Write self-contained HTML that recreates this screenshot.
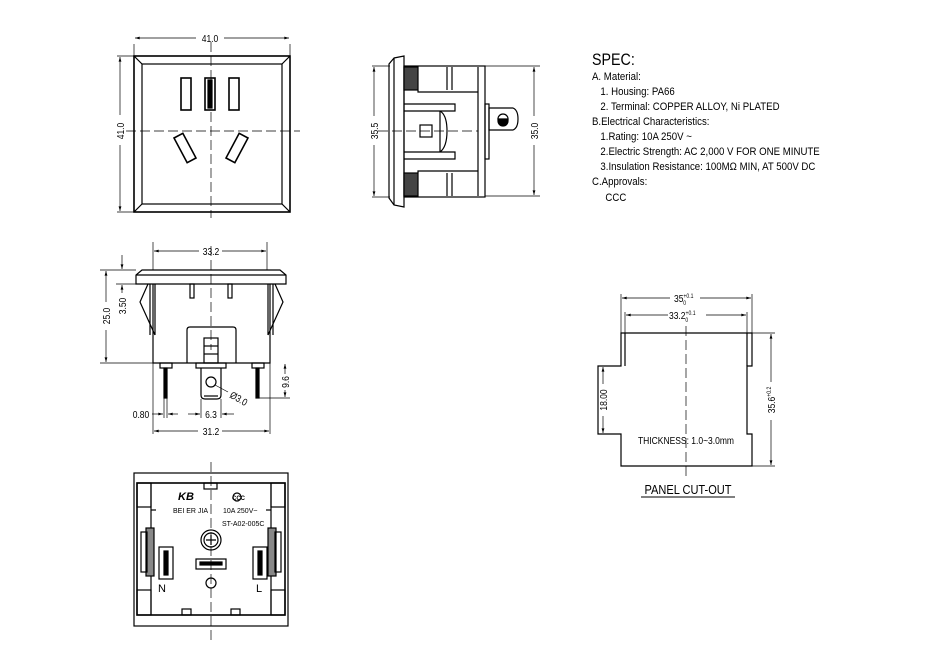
<!DOCTYPE html>
<html><head><meta charset="utf-8"><style>
html,body{margin:0;padding:0;background:#fff;}
svg{display:block;}
text{font-family:"Liberation Sans",sans-serif;fill:#000;}
</style></head><body>
<svg width="930" height="658" viewBox="0 0 930 658" xmlns="http://www.w3.org/2000/svg">
<defs>
<marker id="a" viewBox="0 0 10 6" refX="10" refY="3" markerWidth="8" markerHeight="4" orient="auto-start-reverse"><path d="M0,0L10,3L0,6z" fill="#000"/></marker>
</defs>
<g fill="none" stroke="#000" stroke-width="1.2">
<!-- FRONT VIEW -->
<rect x="134" y="56" width="156" height="156" stroke-width="1.6"/>
<rect x="142" y="64" width="140" height="140"/>
<line x1="134" y1="56" x2="142" y2="64"/><line x1="290" y1="56" x2="282" y2="64"/>
<line x1="134" y1="212" x2="142" y2="204"/><line x1="290" y1="212" x2="282" y2="204"/>
<rect x="181" y="78" width="10" height="32" stroke-width="1.6"/>
<rect x="205" y="78" width="10" height="32" stroke-width="1.6"/>
<rect x="208" y="80" width="4" height="28" fill="#000"/>
<rect x="229" y="78" width="10" height="32" stroke-width="1.6"/>
<rect x="-5" y="-14" width="10" height="28" transform="translate(185,148) rotate(-28)" stroke-width="1.6"/>
<rect x="-5" y="-14" width="10" height="28" transform="translate(237,148) rotate(28)" stroke-width="1.6"/>
<g stroke-width="0.7">
<line x1="134" y1="44" x2="134" y2="56"/><line x1="290" y1="44" x2="290" y2="56"/>
<line x1="135" y1="38" x2="196" y2="38" marker-start="url(#a)"/><line x1="224" y1="38" x2="289" y2="38" marker-end="url(#a)"/>
<line x1="117" y1="56" x2="134" y2="56"/><line x1="117" y1="212" x2="134" y2="212"/>
<line x1="120" y1="57" x2="120" y2="115" marker-start="url(#a)"/><line x1="120" y1="145" x2="120" y2="211" marker-end="url(#a)"/>
<line x1="126" y1="131" x2="300" y2="131" stroke-dasharray="10,4"/>
<line x1="211" y1="42" x2="211" y2="218" stroke-dasharray="10,4"/>
</g>
<!-- SIDE VIEW -->
<path d="M394,58 L404,56 L404,207 L394,205 L389,198 L389,64 Z"/>
<line x1="394" y1="58" x2="394" y2="205"/>
<rect x="404" y="66" width="81" height="131"/>
<rect x="404" y="67" width="14" height="23" fill="#444"/>
<rect x="404" y="173" width="14" height="23" fill="#444"/>
<line x1="447" y1="67" x2="447" y2="90"/><line x1="452" y1="67" x2="452" y2="90"/>
<line x1="447" y1="173" x2="447" y2="196"/><line x1="452" y1="173" x2="452" y2="196"/>
<line x1="478" y1="67" x2="478" y2="196"/>
<polyline points="418,90 418,92 478,92"/><polyline points="418,173 418,171 478,171"/>
<polyline points="404,104 455,104 455,111 404,111"/>
<polyline points="404,152 455,152 455,159 404,159"/>
<path d="M440,111 Q447,115 447,131 Q447,147 440,152"/>
<line x1="440" y1="111" x2="440" y2="152"/>
<rect x="420" y="125" width="12" height="12"/>
<rect x="485" y="104" width="4" height="55"/>
<path d="M489,108 L513,108 Q518,110 518,119 Q518,128 513,130 L489,130 Z"/>
<circle cx="503" cy="119" r="5"/><path d="M498,119 L508,119 L508,121 A5,5 0 0 1 498,121 Z" fill="#000"/>
<g stroke-width="0.7">
<line x1="372" y1="66" x2="390" y2="66"/><line x1="372" y1="197" x2="390" y2="197"/>
<line x1="374" y1="67" x2="374" y2="116" marker-start="url(#a)"/><line x1="374" y1="145" x2="374" y2="196" marker-end="url(#a)"/>
<line x1="485" y1="66" x2="540" y2="66"/><line x1="485" y1="196" x2="540" y2="196"/>
<line x1="534" y1="67" x2="534" y2="116" marker-start="url(#a)"/><line x1="534" y1="145" x2="534" y2="195" marker-end="url(#a)"/>
<line x1="378" y1="131" x2="478" y2="131" stroke-dasharray="10,4"/>
</g>
<!-- TOP SECTION VIEW -->
<path d="M136,284 L136,275 L142,270 L280,270 L286,275 L286,284 Z"/>
<line x1="136" y1="275" x2="286" y2="275"/>
<path d="M153,284 L153,363 L270,363 L270,284"/>
<path d="M148,284 L140,302 L155,335"/><line x1="150" y1="284" x2="150" y2="335"/><line x1="155" y1="284" x2="155" y2="335"/>
<path d="M275,284 L283,302 L268,335"/><line x1="273" y1="284" x2="273" y2="335"/><line x1="268" y1="284" x2="268" y2="335"/>
<rect x="190" y="284" width="4" height="14"/><rect x="228" y="284" width="4" height="14"/>
<path d="M187,363 L187,330 Q187,327 190,327 L233,327 Q236,327 236,330 L236,363"/>
<rect x="204" y="338" width="14" height="25"/>
<line x1="204" y1="346" x2="218" y2="346"/><line x1="204" y1="354" x2="218" y2="354"/>
<rect x="160" y="363" width="12" height="5"/><rect x="196" y="363" width="30" height="5"/><rect x="252" y="363" width="12" height="5"/>
<rect x="164" y="368" width="3" height="30" fill="#333"/><rect x="256" y="368" width="3" height="30" fill="#333"/>
<path d="M201,368 L201,395 Q201,399 205,399 L217,399 Q221,399 221,395 L221,368"/>
<line x1="204" y1="396" x2="218" y2="396"/>
<circle cx="211" cy="382" r="5"/>
<g stroke-width="0.7">
<line x1="153" y1="242" x2="153" y2="270"/><line x1="267" y1="242" x2="267" y2="270"/>
<line x1="154" y1="251" x2="199" y2="251" marker-start="url(#a)"/><line x1="222" y1="251" x2="266" y2="251" marker-end="url(#a)"/>
<line x1="100" y1="270" x2="136" y2="270"/><line x1="100" y1="363" x2="153" y2="363"/>
<line x1="106" y1="271" x2="106" y2="302" marker-start="url(#a)"/><line x1="106" y1="330" x2="106" y2="362" marker-end="url(#a)"/>
<line x1="116" y1="284" x2="136" y2="284"/>
<line x1="122" y1="255" x2="122" y2="269" marker-end="url(#a)"/><line x1="122" y1="285" x2="122" y2="293" marker-start="url(#a)"/>
<line x1="153" y1="363" x2="153" y2="434"/><line x1="270" y1="363" x2="270" y2="434"/>
<line x1="154" y1="431" x2="198" y2="431" marker-start="url(#a)"/><line x1="222" y1="431" x2="269" y2="431" marker-end="url(#a)"/>
<line x1="164" y1="398" x2="164" y2="418"/><line x1="167" y1="398" x2="167" y2="418"/>
<line x1="152" y1="414" x2="163" y2="414" marker-end="url(#a)"/><line x1="168" y1="414" x2="178" y2="414" marker-start="url(#a)"/>
<line x1="201" y1="399" x2="201" y2="418"/><line x1="221" y1="399" x2="221" y2="418"/>
<line x1="188" y1="414" x2="200" y2="414" marker-end="url(#a)"/><line x1="222" y1="414" x2="234" y2="414" marker-start="url(#a)"/>
<line x1="259" y1="398" x2="290" y2="398"/>
<line x1="285" y1="364" x2="285" y2="374" marker-start="url(#a)"/><line x1="285" y1="390" x2="285" y2="397" marker-end="url(#a)"/>
<line x1="215" y1="385" x2="228" y2="392"/>
<line x1="211" y1="246" x2="211" y2="350" stroke-dasharray="10,4"/>
</g>
<!-- BACK VIEW -->
<rect x="134" y="473" width="154" height="153"/>
<rect x="137" y="483" width="148" height="132" stroke-width="1.6"/>
<rect x="137" y="483" width="14" height="24"/><rect x="271" y="483" width="14" height="24"/>
<rect x="137" y="590" width="14" height="25"/><rect x="271" y="590" width="14" height="25"/>
<rect x="204" y="483" width="13" height="6"/>
<rect x="182" y="609" width="9" height="6"/><rect x="231" y="609" width="9" height="6"/>
<line x1="151" y1="483" x2="151" y2="615"/><line x1="271" y1="483" x2="271" y2="615"/>
<rect x="146" y="528" width="8" height="48" fill="#888"/><rect x="268" y="528" width="8" height="48" fill="#888"/>
<rect x="141" y="532" width="6" height="40"/><rect x="275" y="532" width="6" height="40"/>
<line x1="151" y1="510" x2="156" y2="510"/><line x1="266" y1="510" x2="271" y2="510"/>
<rect x="159" y="547" width="14" height="32"/><rect x="164" y="551" width="4" height="24" fill="#000"/>
<rect x="253" y="547" width="14" height="32"/><rect x="258" y="551" width="4" height="24" fill="#000"/>
<circle cx="211" cy="540" r="10"/><circle cx="211" cy="540" r="7"/>
<path d="M206,540 L216,540 M211,535 L211,545"/>
<rect x="196" y="559" width="30" height="10"/><rect x="200" y="562" width="22" height="3" fill="#000"/>
<circle cx="211" cy="583" r="5"/>
<path d="M209,574 Q207,567 214,565 Q219,568 216,574" stroke-width="0"/>
<circle cx="237" cy="497" r="4"/>
<line x1="211" y1="462" x2="211" y2="640" stroke-width="0.7" stroke-dasharray="10,4"/>
<!-- PANEL CUT-OUT -->
<path d="M621,333 L752,333 L752,366 L747,366 L747,434 L752,434 L752,466 L621,466 L621,434 L598,434 L598,366 L621,366 Z"/>
<line x1="625" y1="333" x2="625" y2="366"/><line x1="747" y1="333" x2="747" y2="366"/>
<g stroke-width="0.7">
<line x1="621" y1="294" x2="621" y2="333"/><line x1="752" y1="294" x2="752" y2="333"/>
<line x1="622" y1="298" x2="670" y2="298" marker-start="url(#a)"/><line x1="700" y1="298" x2="751" y2="298" marker-end="url(#a)"/>
<line x1="625" y1="312" x2="625" y2="333"/><line x1="747" y1="312" x2="747" y2="333"/>
<line x1="626" y1="315" x2="668" y2="315" marker-start="url(#a)"/><line x1="706" y1="315" x2="746" y2="315" marker-end="url(#a)"/>
<line x1="752" y1="333" x2="775" y2="333"/><line x1="752" y1="466" x2="775" y2="466"/>
<line x1="771" y1="334" x2="771" y2="382" marker-start="url(#a)"/><line x1="771" y1="420" x2="771" y2="465" marker-end="url(#a)"/>
<line x1="603" y1="367" x2="603" y2="384" marker-start="url(#a)"/><line x1="603" y1="416" x2="603" y2="433" marker-end="url(#a)"/>
<line x1="686" y1="326" x2="686" y2="478" stroke-dasharray="10,4"/>
<line x1="641" y1="497" x2="735" y2="497" stroke-width="1"/>
</g>
</g>
<g stroke="none" fill="#000">
<rect x="164" y="368" width="3" height="30"/><rect x="256" y="368" width="3" height="30"/>
</g>
<!-- Labels -->
<g font-size="10" transform="" >
<text x="210" y="42" text-anchor="middle" transform="translate(210,0) scale(0.85,1) translate(-210,0)">41.0</text>
<text x="0" y="0" transform="translate(124,131) rotate(-90) scale(0.85,1)" text-anchor="middle">41.0</text>
<text x="0" y="0" transform="translate(378,131) rotate(-90) scale(0.85,1)" text-anchor="middle">35.5</text>
<text x="0" y="0" transform="translate(538,131) rotate(-90) scale(0.85,1)" text-anchor="middle">35.0</text>
<text x="211" y="255" text-anchor="middle" transform="translate(211,0) scale(0.85,1) translate(-211,0)">33.2</text>
<text x="0" y="0" transform="translate(110,316) rotate(-90) scale(0.85,1)" text-anchor="middle">25.0</text>
<text x="0" y="0" transform="translate(126,306) rotate(-90) scale(0.85,1)" text-anchor="middle">3.50</text>
<text x="0" y="0" transform="translate(289,382) rotate(-90) scale(0.85,1)" text-anchor="middle">9.6</text>
<text x="0" y="0" transform="translate(229,397) rotate(30) scale(0.85,1)">Ø3.0</text>
<text x="141" y="418" text-anchor="middle" transform="translate(141,0) scale(0.85,1) translate(-141,0)">0.80</text>
<text x="211" y="418" text-anchor="middle" transform="translate(211,0) scale(0.85,1) translate(-211,0)">6.3</text>
<text x="211" y="435" text-anchor="middle" transform="translate(211,0) scale(0.85,1) translate(-211,0)">31.2</text>
<text x="0" y="0" transform="translate(607,400) rotate(-90) scale(0.85,1)" text-anchor="middle">18.00</text>
<text x="0" y="0" transform="translate(775,400) rotate(-90) scale(0.85,1)" text-anchor="middle">35.6<tspan font-size="6" dy="-4">+0.2</tspan></text>
<text x="674" y="302" transform="translate(674,0) scale(0.85,1) translate(-674,0)">35<tspan font-size="6" dy="-4">+0.1</tspan><tspan font-size="6" dx="-12" dy="7">0</tspan></text>
<text x="669" y="319" transform="translate(669,0) scale(0.85,1) translate(-669,0)">33.2<tspan font-size="6" dy="-4">+0.1</tspan><tspan font-size="6" dx="-12" dy="7">0</tspan></text>
<text x="686" y="444" text-anchor="middle" transform="translate(686,0) scale(0.85,1) translate(-686,0)">THICKNESS: 1.0~3.0mm</text>
<text x="688" y="494" text-anchor="middle" font-size="13" transform="translate(688,0) scale(0.85,1) translate(-688,0)">PANEL CUT-OUT</text>
<text x="158" y="592" font-size="11">N</text>
<text x="256" y="592" font-size="11">L</text>
<text x="178" y="500" font-size="11" font-style="italic" font-weight="bold">KB</text>
<text x="173" y="513" font-size="7">BEI ER JIA</text>
<text x="223" y="513" font-size="7">10A 250V~</text>
<text x="222" y="526" font-size="7">ST-A02-005C</text>
<text x="232" y="500" font-size="6" font-weight="bold">CCC</text>
</g>
<g font-size="11.5" transform="translate(592,0) scale(0.84,1)">
<text x="0" y="65" font-size="17">SPEC:</text>
<text x="0" y="80">A. Material:</text>
<text x="10" y="95">1.  Housing: PA66</text>
<text x="10" y="110">2.  Terminal: COPPER ALLOY, Ni PLATED</text>
<text x="0" y="125">B.Electrical Characteristics:</text>
<text x="10" y="140">1.Rating:  10A 250V ~</text>
<text x="10" y="155">2.Electric Strength: AC 2,000 V FOR ONE MINUTE</text>
<text x="10" y="170">3.Insulation Resistance: 100MΩ MIN, AT 500V DC</text>
<text x="0" y="185">C.Approvals:</text>
<text x="16" y="201">CCC</text>
</g>
</svg>
</body></html>
